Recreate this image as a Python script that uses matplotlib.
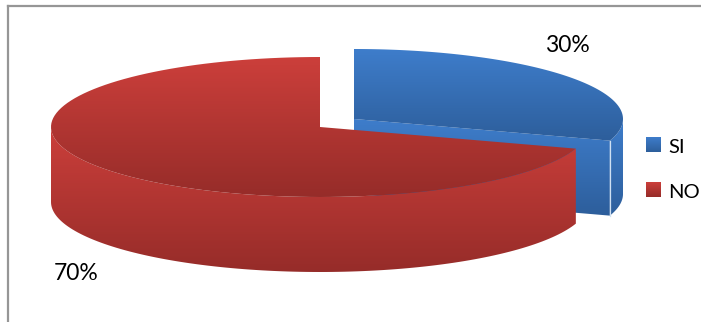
import numpy as np
import matplotlib
matplotlib.use("Agg")
import matplotlib.pyplot as plt
from matplotlib.colors import LinearSegmentedColormap
from matplotlib.patches import Polygon

labels = ["SI", "NO"]
shares = [30, 70]
pct_text = ["30%", "70%"]

W, H = 701, 322
plt.rcParams['font.family'] = ['Lato', 'DejaVu Sans']

fig = plt.figure(figsize=(W / 100, H / 100), dpi=100)
ax = fig.add_axes([0, 0, 1, 1])
ax.set_xlim(0, W)
ax.set_ylim(H, 0)
ax.axis("off")

# pie shape in pixels
RX, RY, DEPTH = 269, 70, 75
centres = [(354, 119), (320, 127)]  # SI is pulled out of the pie
blue = ("#3e7dcb", "#2d5e9b")
red = ("#cc3f3b", "#962c29")


def arc(c, t0, t1, dy=0):
    t = np.radians(np.linspace(t0, t1, 120))
    return np.column_stack([c[0] + RX * np.sin(t), c[1] - RY * np.cos(t) + dy])


def grad(verts, cols):
    # vertical gradient clipped to the polygon
    cmap = LinearSegmentedColormap.from_list("g", cols)
    x0, y0 = verts.min(axis=0)
    x1, y1 = verts.max(axis=0)
    im = ax.imshow(np.linspace(0, 1, 256).reshape(-1, 1), cmap=cmap, aspect="auto",
                   extent=(x0, x1, y1, y0), zorder=2)
    poly = Polygon(verts, closed=True, fc="none", ec="none", transform=ax.transData)
    ax.add_patch(poly)
    im.set_clip_path(poly)
    ax.set_xlim(0, W)
    ax.set_ylim(H, 0)


# bearings clockwise from 12 o'clock
cut = 360 * shares[0] / sum(shares)

# SI: cut face, outer wall, top
c = centres[0]
corner = arc(c, cut, cut, 0)[0]
grad(np.array([c, corner, corner + [0, DEPTH], [c[0], c[1] + DEPTH]]), blue)
wall = np.vstack([arc(c, 90, cut), arc(c, cut, 90, DEPTH)])
grad(wall, blue)
grad(np.vstack([[c], arc(c, 0, cut)]), blue)
ax.plot([corner[0], corner[0]], [corner[1], corner[1] + DEPTH], color="#cfe0f2", lw=0.9, zorder=3)

# NO: outer wall, top
c = centres[1]
wall = np.vstack([arc(c, cut, 270), arc(c, 270, cut, DEPTH)])
grad(wall, red)
grad(np.vstack([[c], arc(c, cut, 360)]), red)

# chart frame, only top and left show
ax.plot([7.5, W], [5.5, 5.5], color="#969696", lw=1.6, zorder=1)
ax.plot([7.5, 7.5], [5.5, H], color="#969696", lw=1.6, zorder=1)

# data labels
ax.text(567, 45, pct_text[0], fontsize=16.5, color="black", ha="center", va="center")
ax.text(76, 274, pct_text[1], fontsize=16.5, color="black", ha="center", va="center")

# legend
for lab, y, cols in zip(labels, [137, 182], [blue, red]):
    grad(np.array([[646, y], [661, y], [661, y + 14.5], [646, y + 14.5]], dtype=float), cols)
    ax.text(668, y + 10.5, lab, fontsize=14.5, color="black", ha="left", va="center")

fig.savefig("out.png", dpi=100, facecolor="white")
